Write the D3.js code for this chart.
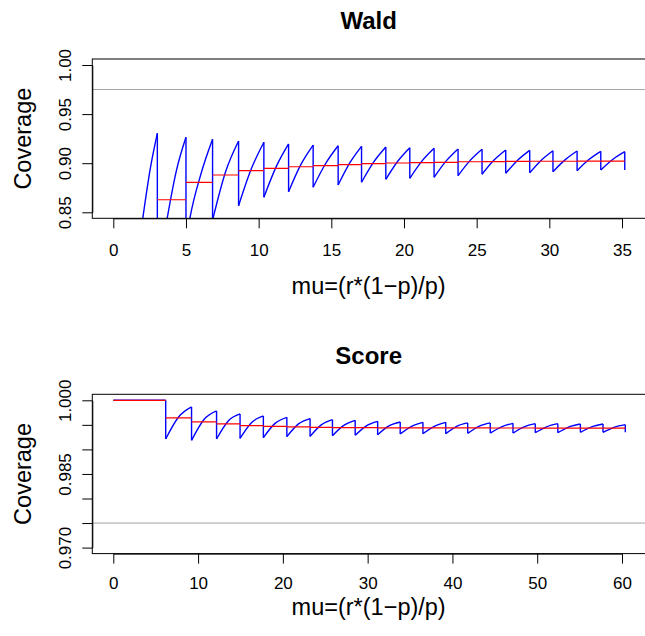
<!DOCTYPE html>
<html>
<head>
<meta charset="utf-8">
<script src="https://cdn.jsdelivr.net/npm/d3@7"></script>
<style>
  body { margin: 0; background: #fff; }
  svg { display: block; font-family: "Liberation Sans", Arial, Helvetica, sans-serif; }
</style>
</head>
<body>
<div class="visHolder"></div>
<script>
// ========================================
// Data
// ========================================
// Wald: each tooth of the coverage curve is a list of [mu, coverage] points
const waldTeeth = [
  [[2.02, 0.843], [2.55, 0.895], [3.03, 0.9304]],
  [[3.03, 0.78], [3.71, 0.844], [4.35, 0.893], [5.00, 0.9264]],
  [[5.00, 0.82], [5.27, 0.844], [6.05, 0.890], [6.83, 0.9243]],
  [[6.83, 0.842], [7.72, 0.891], [8.62, 0.9226]],
  [[8.62, 0.8567], [9.49, 0.894], [10.36, 0.9213]],
  [[10.36, 0.8653], [11.21, 0.8965], [12.06, 0.9196]],
  [[12.06, 0.8710], [12.90, 0.8985], [13.75, 0.9185]],
  [[13.75, 0.8755], [14.61, 0.8997], [15.47, 0.9178]],
  [[15.47, 0.8778], [16.27, 0.9003], [17.08, 0.9172]],
  [[17.08, 0.8806], [17.91, 0.9011], [18.75, 0.9165]],
  [[18.75, 0.8836], [19.57, 0.9020], [20.40, 0.9158]],
  [[20.40, 0.8846], [21.23, 0.9021], [22.07, 0.9152]],
  [[22.07, 0.8856], [22.89, 0.9021], [23.72, 0.9145]],
  [[23.72, 0.8873], [24.54, 0.9026], [25.37, 0.9142]],
  [[25.37, 0.8887], [26.18, 0.9029], [27.00, 0.9134]],
  [[27.00, 0.8897], [27.82, 0.9031], [28.65, 0.9131]],
  [[28.65, 0.8903], [29.45, 0.9031], [30.25, 0.9127]],
  [[30.25, 0.8913], [31.08, 0.9034], [31.91, 0.9124]],
  [[31.91, 0.8924], [32.72, 0.9037], [33.54, 0.9121]],
  [[33.54, 0.8931], [34.36, 0.9038], [35.19, 0.9117]],
  [[35.19, 0.8931]]
];
// Wald: mean coverage (red steps) between these mu values
const waldStepMu = [3.03, 5.00, 6.83, 8.62, 10.36, 12.06, 13.75, 15.47, 17.08, 18.75,
                    20.40, 22.07, 23.72, 25.37, 27.00, 28.65, 30.25, 31.91, 33.54, 35.19];
const waldStepCov = [0.8628, 0.8805, 0.8880, 0.8924, 0.8948, 0.8964, 0.8975, 0.8985, 0.8995,
                     0.9002, 0.9005, 0.9009, 0.9015, 0.9017, 0.9019, 0.9020, 0.9020, 0.9021, 0.9022];
const waldTicksX = [0, 5, 10, 15, 20, 25, 30, 35];
const waldTicksY = [0.85, 0.90, 0.95, 1.00];
const waldTickLabels = ['0.85', '0.90', '0.95', '1.00'];
const waldNominal = 0.975;

// Score
const scoreTeeth = [
  [[0, 1.0], [6.18, 1.0]],
  [[6.18, 0.99212], [7.70, 0.9966], [9.23, 0.99865]],
  [[9.23, 0.99184], [10.70, 0.9961], [12.18, 0.99784]],
  [[12.18, 0.99212], [13.56, 0.9958], [14.95, 0.99722]],
  [[14.95, 0.99224], [16.32, 0.9955], [17.70, 0.99682]],
  [[17.70, 0.99239], [19.08, 0.9953], [20.47, 0.99653]],
  [[20.47, 0.99259], [21.84, 0.9952], [23.21, 0.99627]],
  [[23.21, 0.99265], [24.53, 0.9950], [25.85, 0.99606]],
  [[25.85, 0.99280], [27.19, 0.9949], [28.53, 0.99592]],
  [[28.53, 0.99286], [29.85, 0.9948], [31.18, 0.99571]],
  [[31.18, 0.99300], [32.51, 0.9948], [33.84, 0.99559]],
  [[33.84, 0.99314], [35.18, 0.9947], [36.52, 0.99551]],
  [[36.52, 0.99320], [37.86, 0.9947], [39.21, 0.99551]],
  [[39.21, 0.99320], [40.50, 0.9947], [41.80, 0.99539]],
  [[41.80, 0.99327], [43.13, 0.9947], [44.46, 0.99539]],
  [[44.46, 0.99333], [45.80, 0.9946], [47.14, 0.99531]],
  [[47.14, 0.99333], [48.45, 0.9946], [49.77, 0.99524]],
  [[49.77, 0.99340], [51.10, 0.9946], [52.43, 0.99524]],
  [[52.43, 0.99340], [53.76, 0.9946], [55.09, 0.99518]],
  [[55.09, 0.99347], [56.42, 0.9946], [57.76, 0.99518]],
  [[57.76, 0.99347], [59.07, 0.9945], [60.39, 0.99504]],
  [[60.39, 0.99347]]
];
const scoreStepMu = [0, 6.18, 9.23, 12.18, 14.95, 17.70, 20.47, 23.21, 25.85, 28.53, 31.18,
                     33.84, 36.52, 39.21, 41.80, 44.46, 47.14, 49.77, 52.43, 55.09, 57.76, 60.39];
const scoreStepCov = [1.0, 0.99641, 0.99559, 0.99518, 0.99484, 0.99470, 0.99457, 0.99449, 0.99445,
                      0.99442, 0.99440, 0.99439, 0.99438, 0.99437, 0.99437, 0.99436, 0.99436,
                      0.99435, 0.99435, 0.99435, 0.99434];
const scoreTicksX = [0, 10, 20, 30, 40, 50, 60];
const scoreTicksY = [0.970, 0.975, 0.980, 0.985, 0.990, 0.995, 1.000];
const scoreTickLabels = ['0.970', '', '', '0.985', '', '', '1.000'];
const scoreNominal = 0.975;

const xLabel = 'mu=(r*(1\u2212p)/p)',
      yLabel = 'Coverage';

// ========================================
// Layout
// ========================================
const
  width = 645,
  height = 636,
  boxLeft = 92.3,         // left edge of the plot box
  boxRight = 646,         // plot box runs off the right edge
  boxHeight = 159.3,
  yPad = 6,               // gap between box and outer y ticks
  xFirst = 113.3,         // pixel of first x tick
  xLast = 622,            // pixel of last x tick
  tickLen = 10,
  tickFont = 17,
  labFont = 23.5,
  titleFont = 24;

const panels = [
  { title: 'Wald', top: 59, teeth: waldTeeth, stepMu: waldStepMu, stepCov: waldStepCov,
    ticksX: waldTicksX, ticksY: waldTicksY, tickLabels: waldTickLabels, nominal: waldNominal,
    tickGap: 37.4, labGap: 75.7 },
  { title: 'Score', top: 394.3, teeth: scoreTeeth, stepMu: scoreStepMu, stepCov: scoreStepCov,
    ticksX: scoreTicksX, ticksY: scoreTicksY, tickLabels: scoreTickLabels, nominal: scoreNominal,
    tickGap: 35.5, labGap: 61 }
];

const svg = d3.select('.visHolder')
  .append('svg')
    .attr('width', width)
    .attr('height', height);

panels.forEach((p, k) => {
  const bottom = p.top + boxHeight;
  const x = d3.scaleLinear()
    .domain([p.ticksX[0], p.ticksX[p.ticksX.length - 1]])
    .range([xFirst, xLast]);
  const y = d3.scaleLinear()
    .domain([p.ticksY[0], p.ticksY[p.ticksY.length - 1]])
    .range([bottom - yPad, p.top + yPad]);

  const g = svg.append('g');
  const clipId = 'clip' + k;
  g.append('clipPath').attr('id', clipId)
    .append('rect')
      .attr('x', boxLeft).attr('y', p.top)
      .attr('width', boxRight - boxLeft).attr('height', boxHeight);

  const plot = g.append('g').attr('clip-path', 'url(#' + clipId + ')');

  // nominal level
  plot.append('line')
    .attr('x1', boxLeft).attr('x2', boxRight)
    .attr('y1', y(p.nominal)).attr('y2', y(p.nominal))
    .attr('stroke', '#a3a3a3').attr('stroke-width', 1);

  // coverage curve: teeth + vertical drops
  const line = d3.line()
    .x(d => x(d[0]))
    .y(d => y(d[1]))
    .curve(d3.curveMonotoneX);

  plot.selectAll('path.tooth')
    .data(p.teeth.filter(t => t.length > 1))
    .enter()
    .append('path')
      .attr('class', 'tooth')
      .attr('d', line)
      .attr('fill', 'none')
      .attr('stroke', '#0000ff')
      .attr('stroke-width', 1.4);

  const drops = p.teeth.slice(0, -1).map((t, i) => [t[t.length - 1], p.teeth[i + 1][0]]);
  plot.selectAll('line.drop')
    .data(drops)
    .enter()
    .append('line')
      .attr('x1', d => x(d[0][0])).attr('x2', d => x(d[1][0]))
      .attr('y1', d => y(d[0][1])).attr('y2', d => y(d[1][1]))
      .attr('stroke', '#0000ff')
      .attr('stroke-width', 1.4);

  // mean coverage steps
  plot.selectAll('line.step')
    .data(p.stepCov)
    .enter()
    .append('line')
      .attr('x1', (d, i) => x(p.stepMu[i]))
      .attr('x2', (d, i) => x(p.stepMu[i + 1]))
      .attr('y1', d => y(d)).attr('y2', d => y(d))
      .attr('stroke', '#ff0000')
      .attr('stroke-width', 1.2);

  // box
  g.append('rect')
    .attr('x', boxLeft).attr('y', p.top)
    .attr('width', boxRight - boxLeft).attr('height', boxHeight)
    .attr('fill', 'none').attr('stroke', '#000').attr('stroke-width', 1);

  // x axis
  const xAxis = g.append('g')
    .attr('transform', 'translate(0,' + bottom + ')')
    .call(d3.axisBottom(x).tickValues(p.ticksX).tickSize(tickLen).tickSizeOuter(0));
  xAxis.selectAll('text')
    .attr('dy', null)
    .attr('y', p.tickGap)
    .style('font-size', tickFont + 'px')
    .attr('fill', '#000');

  // y axis
  const yAxis = g.append('g')
    .attr('transform', 'translate(' + boxLeft + ',0)')
    .call(d3.axisLeft(y).tickValues(p.ticksY).tickSize(tickLen).tickSizeOuter(0)
      .tickFormat((d, i) => p.tickLabels[i]));
  yAxis.selectAll('text')
    .attr('dy', null)
    .attr('x', 0)
    .attr('transform', 'translate(-21.3,0) rotate(-90)')
    .attr('text-anchor', 'middle')
    .style('font-size', tickFont + 'px')
    .attr('fill', '#000');

  [xAxis, yAxis].forEach(a => {
    a.select('.domain').attr('stroke', '#000');
    a.selectAll('.tick line').attr('stroke', '#000');
  });

  // titles
  const mid = (boxLeft + 645) / 2;
  g.append('text')
    .attr('x', mid).attr('y', p.top - 30)
    .attr('text-anchor', 'middle')
    .style('font-size', titleFont + 'px').style('font-weight', 'bold')
    .text(p.title);
  g.append('text')
    .attr('x', mid).attr('y', bottom + p.labGap)
    .attr('text-anchor', 'middle')
    .style('font-size', labFont + 'px')
    .text(xLabel);
  g.append('text')
    .attr('transform', 'translate(30.5,' + (p.top + boxHeight / 2) + ') rotate(-90)')
    .attr('text-anchor', 'middle')
    .style('font-size', labFont + 'px')
    .text(yLabel);
});
</script>
</body>
</html>
